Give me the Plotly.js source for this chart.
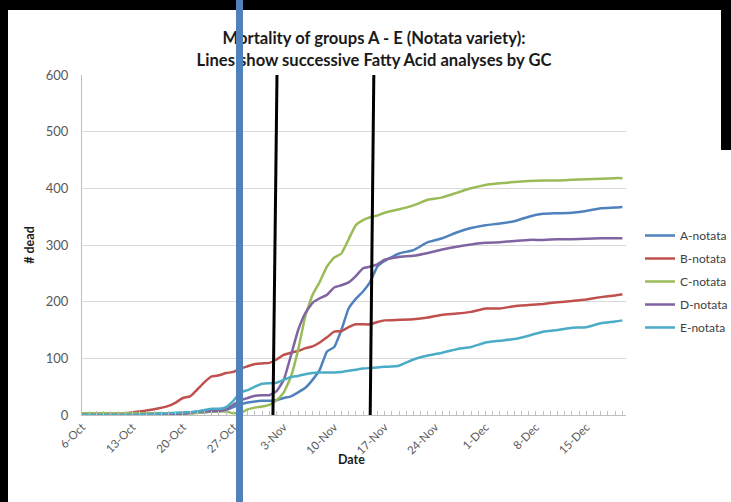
<!DOCTYPE html>
<html>
<head>
<meta charset="utf-8">
<script src="https://cdn.plot.ly/plotly-3.0.1.min.js"></script>
<style>
  html, body { margin: 0; padding: 0; background: #000; }
  #wrap { position: relative; width: 731px; height: 502px; overflow: hidden; }
  #chart { width: 731px; height: 502px; }
  #bar { position: absolute; left: 235.5px; top: 0; width: 7px; height: 502px; background: #4F81BD; pointer-events: none; }
</style>
</head>
<body>
<div id="wrap">
  <div id="chart"></div>
  <div id="bar"></div>
</div>
<script>
// ---- data ----
const dates = [
  '2011-10-06','2011-10-09','2011-10-12','2011-10-14','2011-10-16','2011-10-18','2011-10-19','2011-10-20',
  '2011-10-21','2011-10-22','2011-10-23','2011-10-24','2011-10-25','2011-10-26','2011-10-27','2011-10-28',
  '2011-10-29','2011-10-30','2011-10-31','2011-11-01','2011-11-02','2011-11-03','2011-11-04','2011-11-05',
  '2011-11-06','2011-11-07','2011-11-08','2011-11-09','2011-11-10','2011-11-11','2011-11-12','2011-11-13',
  '2011-11-14','2011-11-15','2011-11-16','2011-11-17','2011-11-19','2011-11-21','2011-11-23','2011-11-25',
  '2011-11-27','2011-11-29','2011-12-01','2011-12-03','2011-12-05','2011-12-07','2011-12-09','2011-12-11',
  '2011-12-13','2011-12-15','2011-12-17','2011-12-19','2011-12-20'
];
const seriesNames = ['A-notata','B-notata','C-notata','D-notata','E-notata'];
const aNotata = [0,0,0,0,0,0,1,2, 3,4,5,6,7,9,14,19, 22,24,25,25,26,30,33,40,
  48,62,80,112,120,150,188,205, 218,235,262,272,285,291,305,312,
  322,330,335,338,342,350,355,356, 357,360,365,366,367];
const bNotata = [1,1,3,6,10,16,22,30, 33,45,58,68,70,74,76,82, 86,90,91,92,98,106,110,113,
  118,121,128,137,147,148,155,160, 160,160,164,167,168,169,172,177,
  179,182,188,188,192,194,196,199, 201,204,208,211,213];
const cNotata = [3,3,3,3,3,3,3,3, 3,4,5,6,6,6,3,4, 10,13,15,18,26,40,68,115,
  175,212,235,262,278,285,310,335, 344,349,352,357,363,370,380,384,
  392,400,406,409,411,413,414,414, 415,416,417,418,418];
const dNotata = [0,0,0,0,0,1,2,3, 4,6,6,7,7,10,18,26, 30,34,35,35,42,62,105,150,
  180,198,206,212,225,229,234,245, 259,262,266,274,279,281,286,292,
  297,301,304,305,307,309,309,310, 310,311,312,312,312];
const eNotata = [0,0,0,1,2,3,4,5, 5,6,9,11,11,14,25,40, 44,50,55,56,57,62,67,69,
  72,74,75,75,75,76,78,80, 82,83,84,85,87,98,105,110,
  116,120,128,131,134,140,147,150, 154,155,162,165,167];
const seriesValues = [aNotata, bNotata, cNotata, dNotata, eNotata];
const colors = ['#4F81BD','#C0504D','#9BBB59','#8064A2','#4BACC6'];
const yTicks = [0,100,200,300,400,500,600];
// analysis markers (dates of fatty-acid analyses)
const analysisLines = [
  {top: '2011-11-02 01:30', bottom: '2011-11-01 12:00'},
  {top: '2011-11-15 12:00', bottom: '2011-11-15 00:00'}
];

// ---- geometry helpers (page px -> paper fraction) ----
const W = 731, H = 502;
const M = {l: 82, r: 105, t: 75, b: 87, autoexpand: false};
const pw = W - M.l - M.r, ph = H - M.t - M.b;
const px = x => (x - M.l) / pw;
const py = y => (H - M.b - y) / ph;

const FONT = 'Lato, "Open Sans", sans-serif';

const traces = seriesNames.map((n, i) => ({
  type: 'scatter', mode: 'lines', name: n,
  x: dates, y: seriesValues[i],
  line: {color: colors[i], width: 2.5, shape: 'spline', smoothing: 0.4},
  legendgroup: 'g' + i,
  hoverinfo: 'skip'
}));

const shapes = [
  // white card
  {type: 'rect', xref: 'paper', yref: 'paper', layer: 'below',
   x0: px(8), x1: px(740), y0: py(520), y1: py(10),
   fillcolor: '#ffffff', line: {width: 0}},
  // black strip top-right
  {type: 'rect', xref: 'paper', yref: 'paper', layer: 'below',
   x0: px(721), x1: px(740), y0: py(150), y1: py(-5),
   fillcolor: '#000000', line: {width: 0}},
  // black lines for analyses
  ...analysisLines.map(l => ({type: 'line', xref: 'x', yref: 'y',
     x0: l.bottom, x1: l.top, y0: 0, y1: 600,
     line: {color: '#000000', width: 3}}))
];

const layout = {
  width: W, height: H,
  margin: M,
  paper_bgcolor: '#000000',
  plot_bgcolor: '#ffffff',
  showlegend: true,
  font: {family: FONT, size: 12, color: '#595959'},
  title: {
    text: 'Mortality of groups A - E (Notata variety):<br>Lines show successive Fatty Acid analyses by GC',
    font: {family: FONT, size: 16.6, color: '#1a1a1a', weight: 'bold'},
    xref: 'container', x: 374 / W, xanchor: 'center',
    yref: 'container', y: 1 - 44 / H, yanchor: 'top'
  },
  xaxis: {
    type: 'date',
    range: ['2011-10-06', '2011-12-20 12:00'],
    tick0: '2011-10-06', dtick: 7 * 86400000,
    tickformat: '%-d-%b', tickangle: -45,
    tickfont: {family: FONT, size: 11.5, color: '#595959'},
    showgrid: false, zeroline: false,
    showline: true, linecolor: '#bfbfbf', linewidth: 1,
    ticks: 'inside', ticklen: 4, tickcolor: '#bfbfbf',
    minor: {dtick: 86400000, ticks: 'inside', ticklen: 4, tickcolor: '#bfbfbf', showgrid: false},
    title: {text: ''},
    automargin: false, fixedrange: true
  },
  yaxis: {
    range: [0, 600], tickvals: yTicks,
    tickfont: {family: FONT, size: 13, color: '#595959'},
    showgrid: true, gridcolor: '#d9d9d9', gridwidth: 1,
    zeroline: false, showline: true, linecolor: '#bfbfbf', linewidth: 1,
    ticks: '', ticklabelstandoff: 10,
    title: {text: '# dead', font: {family: FONT, size: 12.5, color: '#1a1a1a', weight: 'bold'}, standoff: 8},
    automargin: false, fixedrange: true
  },
  annotations: [
    {text: '<b>Date</b>', xref: 'paper', yref: 'paper', x: px(351), y: py(459),
     xanchor: 'center', yanchor: 'middle', showarrow: false,
     font: {family: FONT, size: 12.5, color: '#1a1a1a'}}
  ],
  legend: {
    x: px(640), xanchor: 'left', y: py(221), yanchor: 'top',
    bgcolor: 'rgba(0,0,0,0)', borderwidth: 0,
    font: {family: FONT, size: 12, color: '#404040'},
    traceorder: 'grouped', tracegroupgap: 4
  },
  shapes: shapes
};

Plotly.newPlot('chart', traces, layout, {displayModeBar: false, staticPlot: true});
</script>
</body>
</html>
